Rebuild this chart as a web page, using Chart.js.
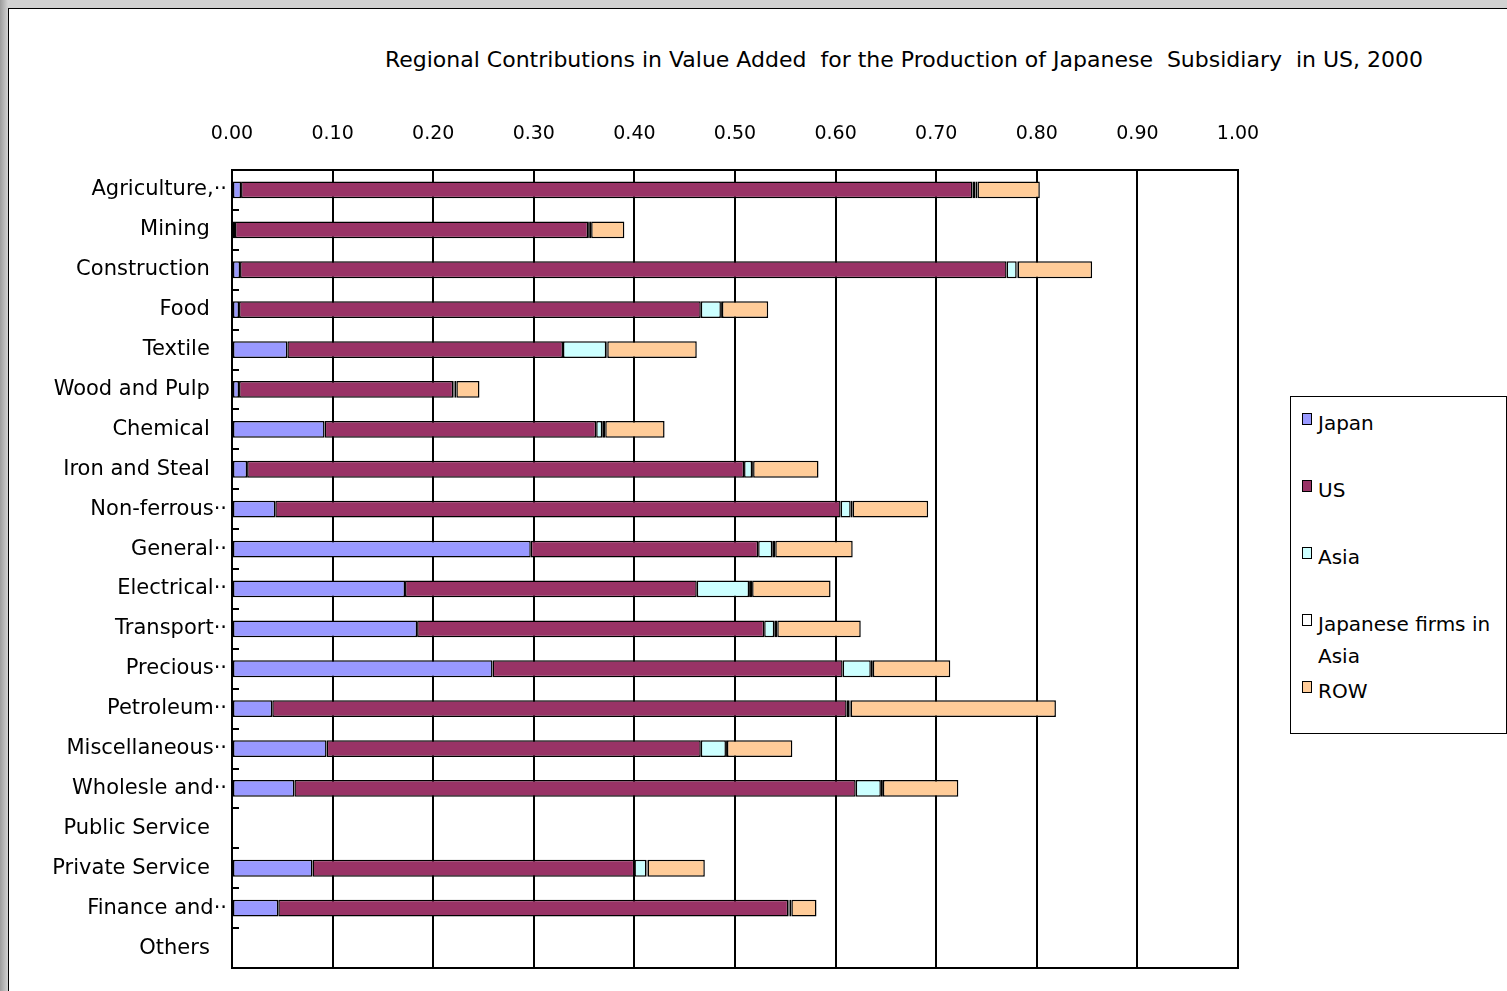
<!DOCTYPE html>
<html>
<head>
<meta charset="utf-8">
<script src="https://cdn.jsdelivr.net/npm/chart.js@4.4.1/dist/chart.umd.min.js"></script>
<style>
  html, body { margin: 0; padding: 0; width: 1507px; height: 991px; overflow: hidden; }
  body {
    background: linear-gradient(to right, #9c9c9c 0px, #d2d2d2 8px, #d2d2d2 100%);
    font-family: "DejaVu Sans", "Noto Sans", sans-serif;
    color: #000;
  }
  #frame { position: absolute; left: 8px; top: 8px; width: 1520px; height: 1000px; background: #fff;
           border-left: 1px solid #000; border-top: 1px solid #000; }
  #title { position: absolute; left: 304px; top: 47px; width: 1200px; text-align: center;
           font-size: 22px; line-height: 26px; white-space: pre; }
  #wrap { position: absolute; left: 10px; top: 100px; width: 1260px; height: 888px; }
  #legend { position: absolute; left: 1290px; top: 396px; width: 217px; height: 338px; box-sizing: border-box;
            border: 1px solid #000; background: #fff; padding: 10px 0 0 11px; font-size: 20px; }
  .item { display: flex; align-items: flex-start; height: 67px; line-height: 32px; }
  .swatch { flex: none; width: 8px; height: 10px; border: 1px solid #000; margin: 6px 6px 0 0; }
  .text { width: 186px; }
</style>
</head>
<body>
<div id="frame"></div>
<div id="title">Regional Contributions in Value Added  for the Production of Japanese  Subsidiary  in US, 2000</div>
<div id="wrap"><canvas id="chart" width="1260" height="888"></canvas></div>
<div id="legend"></div>
<script>
// categories (as truncated in the original sheet)
const categories = [
  "Agriculture,··", "Mining", "Construction", "Food", "Textile", "Wood and Pulp",
  "Chemical", "Iron and Steal", "Non-ferrous··", "General··", "Electrical··", "Transport··",
  "Precious··", "Petroleum··", "Miscellaneous··", "Wholesle and··", "Public Service",
  "Private Service", "Finance and··", "Others"
];

// value added shares by region
const japan  = [0.009, 0.003, 0.008, 0.007, 0.055, 0.007, 0.092, 0.015, 0.043, 0.297,
                0.172, 0.184, 0.259, 0.040, 0.094, 0.062, 0, 0.080, 0.046, 0];
const us     = [0.727, 0.351, 0.762, 0.459, 0.274, 0.213, 0.270, 0.494, 0.562, 0.226,
                0.290, 0.345, 0.348, 0.571, 0.372, 0.558, 0, 0.320, 0.507, 0];
const asia   = [0.003, 0.001, 0.010, 0.020, 0.043, 0.001, 0.006, 0.008, 0.010, 0.014,
                0.052, 0.010, 0.028, 0.003, 0.025, 0.025, 0, 0.012, 0.001, 0];
const jfAsia = [0.002, 0.002, 0.001, 0.001, 0.001, 0.002, 0.003, 0.001, 0.002, 0.003,
                0.003, 0.003, 0.002, 0.001, 0.001, 0.002, 0, 0.001, 0.002, 0];
const row    = [0.062, 0.033, 0.074, 0.046, 0.089, 0.023, 0.059, 0.065, 0.075, 0.077,
                0.078, 0.083, 0.077, 0.204, 0.065, 0.075, 0, 0.057, 0.025, 0];

const seriesNames  = ["Japan", "US", "Asia", "Japanese firms in Asia", "ROW"];
const seriesColors = ["#9999FF", "#993366", "#CCFFFF", "#FFFFFF", "#FFCC99"];
const seriesData   = [japan, us, asia, jfAsia, row];

// frame round the plot area plus the short inside ticks between categories
const plotFrame = {
  id: "plotFrame",
  afterDraw(chart) {
    const { ctx, chartArea: a, scales: { y } } = chart;
    ctx.save();
    ctx.strokeStyle = "#000";
    ctx.lineWidth = 2;
    ctx.strokeRect(a.left, a.top, a.right - a.left, a.bottom - a.top);
    ctx.beginPath();
    for (let i = 1; i < categories.length; i++) {
      const yy = Math.round((y.getPixelForValue(i - 1) + y.getPixelForValue(i)) / 2);
      ctx.moveTo(a.left, yy);
      ctx.lineTo(a.left + 7, yy);
    }
    ctx.stroke();
    ctx.restore();
  }
};

new Chart(document.getElementById("chart"), {
  type: "bar",
  data: {
    labels: categories,
    datasets: seriesNames.map((name, i) => ({
      label: name,
      data: seriesData[i],
      backgroundColor: seriesColors[i],
      borderColor: "#000",
      borderWidth: 1.5,
      borderSkipped: false,
      barPercentage: 0.42,
      categoryPercentage: 1.0
    }))
  },
  options: {
    indexAxis: "y",
    responsive: false,
    animation: false,
    devicePixelRatio: 1,
    layout: { padding: { left: 0, right: 32, top: 0, bottom: 20 } },
    plugins: { legend: { display: false }, tooltip: { enabled: false } },
    scales: {
      x: {
        position: "top",
        stacked: true,
        min: 0,
        max: 1,
        ticks: {
          stepSize: 0.1,
          padding: 0,
          color: "#000",
          font: { family: "DejaVu Sans", size: 19 },
          callback: (v) => Number(v).toFixed(2)
        },
        // invisible tick marks keep the labels clear of the frame
        grid: { color: "#000", lineWidth: 2, drawTicks: true, tickLength: 25, tickColor: "rgba(0,0,0,0)" },
        border: { display: true, color: "#000", width: 2 },
        afterFit: (s) => { s.height = 70; }
      },
      y: {
        stacked: true,
        ticks: {
          color: "#000",
          padding: -3,
          font: { family: "DejaVu Sans", size: 21 },
          // untruncated labels sit a little further left in the original
          callback: function (v) {
            const l = this.getLabelForValue(v);
            return l.endsWith("··") ? l : l + "\u2002 ";
          }
        },
        grid: { display: false },
        border: { display: true, color: "#000", width: 2 },
        afterFit: (s) => { s.width = 222; }
      }
    }
  },
  plugins: [plotFrame]
});

// legend box to the right
const legend = document.getElementById("legend");
seriesNames.forEach((name, i) => {
  const item = document.createElement("div");
  item.className = "item";
  const sw = document.createElement("span");
  sw.className = "swatch";
  sw.style.background = seriesColors[i];
  const t = document.createElement("span");
  t.className = "text";
  t.textContent = name;
  item.appendChild(sw);
  item.appendChild(t);
  legend.appendChild(item);
});
</script>
</body>
</html>
